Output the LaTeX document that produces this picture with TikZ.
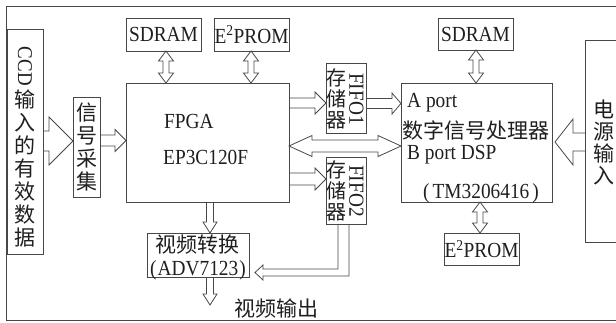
\documentclass[tikz,border=0pt]{standalone}
\usepackage{graphicx}
\usepackage{fontspec}
\setmainfont{Liberation Serif}[FakeStretch=0.9]
\newfontfamily\cjk{Noto Sans CJK SC}
\usetikzlibrary{calc}
\tikzset{
  ln/.style={draw=black!72, line width=0.8pt},
  box/.style={ln, inner sep=0pt, outer sep=0pt},
  en/.style={font=\fontsize{21.5}{24}\selectfont, text=black!88, inner sep=0pt},
  cn/.style={font=\cjk\fontsize{21}{22}\selectfont, text=black!88, inner sep=0pt, align=center},
}
% single hollow block arrow: start, end, shaft half width, head half width, head length
\newcommand\blockarrow[5]{%
  \coordinate (bah) at ($(#2)!#5!(#1)$);
  \draw[ln] ($(#1)!#3!90:(#2)$) -- ($(bah)!#3!90:(#2)$) -- ($(bah)!#4!90:(#2)$) -- (#2)
    -- ($(bah)!#4!-90:(#2)$) -- ($(bah)!#3!-90:(#2)$) -- ($(#1)!#3!-90:(#2)$);
}
% double hollow block arrow
\newcommand\dblarrow[5]{%
  \coordinate (daa) at ($(#1)!#5!(#2)$);
  \coordinate (dab) at ($(#2)!#5!(#1)$);
  \draw[ln] (#1) -- ($(daa)!#4!90:(#2)$) -- ($(daa)!#3!90:(#2)$) -- ($(dab)!#3!90:(#2)$)
    -- ($(dab)!#4!90:(#2)$) -- (#2) -- ($(dab)!#4!-90:(#2)$) -- ($(dab)!#3!-90:(#2)$)
    -- ($(daa)!#3!-90:(#2)$) -- ($(daa)!#4!-90:(#2)$) -- cycle;
}
\begin{document}
\begin{tikzpicture}[x=1pt,y=-1pt]
\useasboundingbox (0,0) rectangle (616,322);
\fill[white] (0,0) rectangle (616,322);
% outer frame
\draw[ln] (616,6.5) -- (6.5,6.5) -- (6.5,320.5) -- (616,320.5);

% boxes
\node[box, minimum width=35.5pt, minimum height=225pt] (ccd) at (25.25,141.5) {};
\node[cn, font=\cjk\fontsize{21}{23}\selectfont] (ccdt) at (25,147) {\rotatebox{-90}{\rmfamily CCD}\\[3pt]输\\入\\的\\有\\效\\数\\据};
\node[box, cn, font=\cjk\fontsize{21}{23}\selectfont, minimum width=27pt, minimum height=100pt] (caiji) at (86.5,147) {信\\号\\采\\集};

\node[box, minimum width=163pt, minimum height=119pt] (fpga) at (207.5,142.5) {};
\node[en, anchor=base west] (fpgat1) at (164,128) {FPGA};
\node[en, anchor=base west] (fpgat2) at (163,164) {EP3C120F};

\node[box, en, minimum width=75pt, minimum height=33pt] (sdram1) at (163.5,34.5) {SDRAM};
\node[box, en, minimum width=75pt, minimum height=33pt] (eprom1) at (251.5,34.5) {E\textsuperscript{2}PROM};

\node[box, minimum width=40pt, minimum height=70pt] (fifo1) at (346,98) {};
\node[cn, font=\cjk\fontsize{20}{21}\selectfont] (fifo1a) at (336.5,99) {存\\储\\器};
\node[en, rotate=-90] (fifo1b) at (356.5,99) {FIFO1};

\node[box, minimum width=40pt, minimum height=67pt] (fifo2) at (346,190.5) {};
\node[cn, font=\cjk\fontsize{20}{21}\selectfont] (fifo2a) at (336.5,191) {存\\储\\器};
\node[en, rotate=-90] (fifo2b) at (356.5,191) {FIFO2};

\node[box, minimum width=151pt, minimum height=119pt] (dsp) at (476.5,142.5) {};
\node[en, anchor=base west] (dspa) at (407,107) {A port};
\node[cn] (dspc) at (476,130) {数字信号处理器};
\node[en, anchor=base west] (dspb) at (407,159) {B port DSP};
\node[en, anchor=base] (dspm) at (481,198) {(\kern3pt TM3206416\kern3pt)};

\node[box, en, minimum width=75pt, minimum height=32pt] (sdram2) at (475.5,34) {SDRAM};
\node[box, en, minimum width=75pt, minimum height=32pt] (eprom2) at (481.5,249) {E\textsuperscript{2}PROM};

\node[box, minimum width=102pt, minimum height=44pt] (vid) at (198,255) {};
\node[cn] (vidt1) at (197,245) {视频转换};
\node[en, anchor=base] (vidt2) at (198,275) {(\kern1pt ADV7123\kern1pt)};

\node[inner sep=0pt, minimum width=30pt, minimum height=201pt] (power) at (601,141.5) {};
\draw[ln] (power.north east) -- (power.north west) -- (power.south west) -- (power.south east);
\node[cn] (powert) at (604,142) {电\\源\\输\\入};

\node[cn] (outt) at (276,309) {视频输出};

% connectors
\coordinate (a1s) at (ccd.east |- 0,141);
\coordinate (a1e) at (caiji.west |- 0,141);
\blockarrow{a1s}{a1e}{10pt}{24pt}{24pt}

\coordinate (a2s) at (caiji.east |- 0,140.5);
\coordinate (a2e) at (fpga.west |- 0,140.5);
\blockarrow{a2s}{a2e}{5.5pt}{11pt}{11pt}

\coordinate (a3s) at (fpga.east |- 0,103);
\coordinate (a3e) at (fifo1.west |- 0,103);
\blockarrow{a3s}{a3e}{5pt}{11pt}{11pt}

\coordinate (a4s) at (fifo1.east |- 0,103.5);
\coordinate (a4e) at (dsp.west |- 0,103.5);
\blockarrow{a4s}{a4e}{5pt}{10.5pt}{9pt}

\coordinate (a5s) at (fpga.east |- 0,146);
\coordinate (a5e) at (dsp.west |- 0,146);
\dblarrow{a5s}{a5e}{6pt}{10.5pt}{23pt}

\coordinate (a6s) at (fpga.east |- 0,179);
\coordinate (a6e) at (fifo2.west |- 0,179);
\blockarrow{a6s}{a6e}{6pt}{11pt}{11pt}

\coordinate (a7s) at (sdram1.south -| 166,0);
\coordinate (a7e) at (fpga.north -| 166,0);
\dblarrow{a7s}{a7e}{3pt}{7.5pt}{10pt}

\coordinate (a8s) at (eprom1.south -| 251,0);
\coordinate (a8e) at (fpga.north -| 251,0);
\dblarrow{a8s}{a8e}{3pt}{7.5pt}{10pt}

\coordinate (a9s) at (sdram2.south -| 476,0);
\coordinate (a9e) at (dsp.north -| 476,0);
\dblarrow{a9s}{a9e}{3pt}{7.5pt}{10pt}

\coordinate (a10s) at (dsp.south -| 480,0);
\coordinate (a10e) at (eprom2.north -| 480,0);
\dblarrow{a10s}{a10e}{3pt}{7.5pt}{10pt}

\coordinate (a11s) at (fpga.south -| 210,0);
\coordinate (a11e) at (vid.north -| 210,0);
\blockarrow{a11s}{a11e}{3.5pt}{7pt}{11pt}

\coordinate (a12s) at (vid.south -| 210,0);
\coordinate (out) at (210,305);
\blockarrow{a12s}{out}{3.5pt}{7pt}{11pt}

\coordinate (a13s) at (power.west |- 0,142);
\coordinate (a13e) at ($(dsp.east |- 0,142)+(3,0)$);
\blockarrow{a13s}{a13e}{9pt}{23pt}{18pt}

\coordinate (f2o) at ($(fifo2.south)+(3,0)$);
\coordinate (f2i) at ($(fifo2.south)+(-8,0)$);
\coordinate (vtip) at ($(vid.east)+(6,17.5)$);
\draw[ln] (f2o) |- ($(vtip)+(8,3.5)$) -- ($(vtip)+(8,7.5)$) -- (vtip) -- ($(vtip)+(8,-7.5)$) -- ($(vtip)+(8,-3.5)$) -| (f2i);
\end{tikzpicture}
\end{document}
